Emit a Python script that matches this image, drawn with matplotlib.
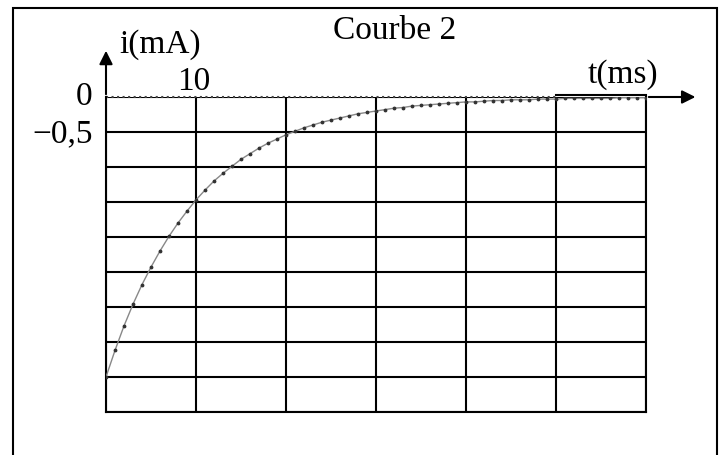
import numpy as np
import matplotlib.pyplot as plt
from matplotlib.patches import Rectangle

# values (one dot per ms)
t_ms = list(range(0, 61))
i_mA = [-4.00, -3.62, -3.27, -2.96, -2.68, -2.43, -2.20, -1.99, -1.80, -1.63,
        -1.47, -1.33, -1.20, -1.09, -0.99, -0.89, -0.81, -0.73, -0.66, -0.60,
        -0.54, -0.49, -0.44, -0.40, -0.36, -0.33, -0.30, -0.27, -0.24, -0.22,
        -0.20, -0.18, -0.16, -0.15, -0.13, -0.12, -0.11, -0.10, -0.09, -0.08,
        -0.07, -0.07, -0.06, -0.05, -0.05, -0.04, -0.04, -0.04, -0.03, -0.03,
        -0.03, -0.02, -0.02, -0.02, -0.02, -0.02, -0.02, -0.01, -0.01, -0.01,
        -0.01]

x_grid = list(range(0, 61, 10))
y_grid = list(np.arange(-4.5, 0.01, 0.5))

plt.rcParams['font.family'] = ['Liberation Serif', 'DejaVu Serif']
W, H = 726, 455
fig = plt.figure(figsize=(W / 100, H / 100), dpi=100)

# outer frame of the scanned figure
fig.patches.append(Rectangle((13 / W, -0.05), (717 - 13) / W, 1.05 - 8 / H,
                             transform=fig.transFigure, fill=False,
                             edgecolor='black', linewidth=1.5))

ax = fig.add_axes([106 / W, (H - 412) / H, 540 / W, 315 / H])
ax.set_xlim(0, 60)
ax.set_ylim(-4.5, 0)
ax.set_xticks(x_grid)
ax.set_yticks(y_grid)
ax.tick_params(length=0, labelbottom=False, labelleft=False)
ax.grid(True, color='black', linewidth=1.5)
for s in ax.spines.values():
    s.set_linewidth(1.5)
ax.spines['top'].set_visible(False)

# zero line: dotted then a solid piece on the last column
ax.plot([0, 50], [0, 0], color='#444444', linestyle=':', linewidth=1.5, clip_on=False)
ax.plot([50, 60], [0.03, 0.03], color='black', linewidth=1.5, clip_on=False)

# curve with its dots
ax.plot(t_ms, i_mA, color='#888888', linewidth=1.0, marker='.', markersize=3.5,
        markerfacecolor='#333333', markeredgecolor='#333333', zorder=3)

# axis arrows
ax.annotate('', xy=(65.8, 0), xytext=(60, 0), annotation_clip=False,
            arrowprops=dict(arrowstyle='-|>', color='black', lw=1.5, mutation_scale=20))
ax.annotate('', xy=(0, 0.70), xytext=(0, 0), annotation_clip=False,
            arrowprops=dict(arrowstyle='-|>', color='black', lw=1.5, mutation_scale=20))

fs = 24
ax.text(1.5, 0.63, 'i(mA)', fontsize=fs, ha='left', va='baseline')
ax.text(9.8, 0.10, '10', fontsize=fs, ha='center', va='baseline')
ax.text(-1.5, -0.11, '0', fontsize=fs, ha='right', va='baseline')
ax.text(-1.5, -0.64, '\u22120,5', fontsize=fs, ha='right', va='baseline')
ax.text(32.1, 0.83, 'Courbe 2', fontsize=fs, ha='center', va='baseline')
ax.text(57.4, 0.20, 't(ms)', fontsize=fs, ha='center', va='baseline')

fig.savefig('out.png', dpi=100)
